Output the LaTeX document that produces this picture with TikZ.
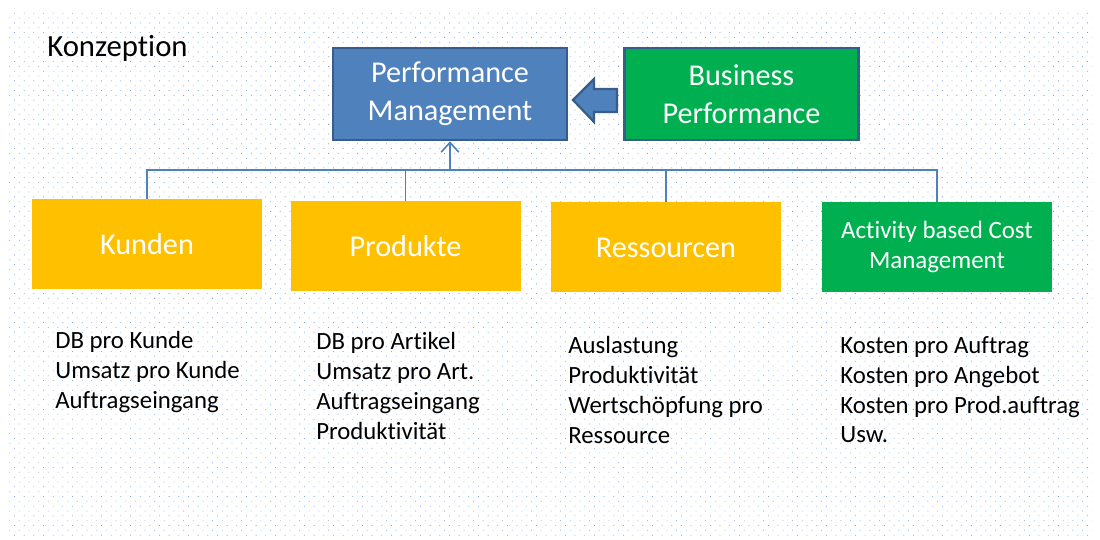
\documentclass[tikz,border=0pt]{standalone}
\usepackage{fontspec}
\setmainfont{Carlito}[Ligatures=NoCommon]
\usetikzlibrary{arrows.meta,patterns.meta}
\definecolor{pmblue}{HTML}{4F81BD}
\definecolor{pmborder}{HTML}{385D8A}
\definecolor{bpgreen}{HTML}{00B050}
\definecolor{korange}{HTML}{FFC000}
\definecolor{dotblue}{HTML}{7FA7DC}
\newlength\pxu
\setlength\pxu{0.02cm}
\tikzset{
  topbox/.style={draw=pmborder, line width=2.6\pxu, text=white, align=center,
    minimum width=234\pxu, minimum height=92\pxu, inner sep=0pt,
    font=\fontsize{17.2}{21.5}\selectfont},
  catbox/.style={fill=korange, text=white, align=center,
    minimum width=230\pxu, minimum height=90\pxu, inner sep=0pt,
    font=\fontsize{17.2}{21.5}\selectfont},
  listtext/.style={anchor=north west, align=left, inner sep=0pt,
    font=\fontsize{14.1}{17}\selectfont},
  conn/.style={draw=pmblue, line width=1.6\pxu},
}
\begin{document}
\begin{tikzpicture}[x=0.02cm, y=-0.02cm]
\useasboundingbox (0,0) rectangle (1100,540);
\fill[white] (0,0) rectangle (1100,540);
\fill[pattern={Dots[angle=45, distance=3.89pt, radius=0.32pt]}, pattern color=dotblue] (8,12) rectangle (1092,538);

\node[anchor=base west, inner sep=0pt, font=\fontsize{17.5}{20}\selectfont] (konz) at (47,57) {Konzeption};

\node[topbox, fill=pmblue] (pm) at (450,94) {Performance\\Management};
\node[topbox, fill=bpgreen] (bp) at (741.5,94) {Business\\Performance};

% block arrow from Business Performance to Performance Management
\coordinate (tip) at (573,100);
\filldraw[fill=pmblue, draw=pmborder, line width=2.2\pxu, line join=miter]
  (tip) -- (594,79) -- (594,89) -- (617,89) -- (617,112) -- (594,112) -- (594,122) -- cycle;

\node[catbox] (kunden) at (147,244) {Kunden};
\node[catbox] (produkte) at (405.5,246.5) {Produkte};
\node[catbox] (ress) at (666,247.5) {Ressourcen};
\node[catbox, fill=bpgreen, font=\fontsize{14.2}{17.6}\selectfont] (abc) at (937,247) {Activity based Cost\\Management};

\coordinate (bus) at (450,170);
\draw[conn] (kunden.north) |- (bus);
\draw[conn] (produkte.north) |- (bus);
\draw[conn] (ress.north) |- (bus);
\draw[conn] (abc.north) |- (bus);
\draw[conn, -{Straight Barb[length=5.5pt, width=10pt, line width=0.9pt]}] (bus) -- (pm.south);

\node[listtext] (l1) at (55,331) {DB pro Kunde\\Umsatz pro Kunde\\Auftragseingang};
\node[listtext] (l2) at (316,332) {DB pro Artikel\\Umsatz pro Art.\\Auftragseingang\\Produktivität};
\node[listtext] (l3) at (568,336) {Auslastung\\Produktivität\\Wertschöpfung pro\\Ressource};
\node[listtext] (l4) at (840,336) {Kosten pro Auftrag\\Kosten pro Angebot\\Kosten pro Prod.auftrag\\Usw.};
\end{tikzpicture}
\end{document}
